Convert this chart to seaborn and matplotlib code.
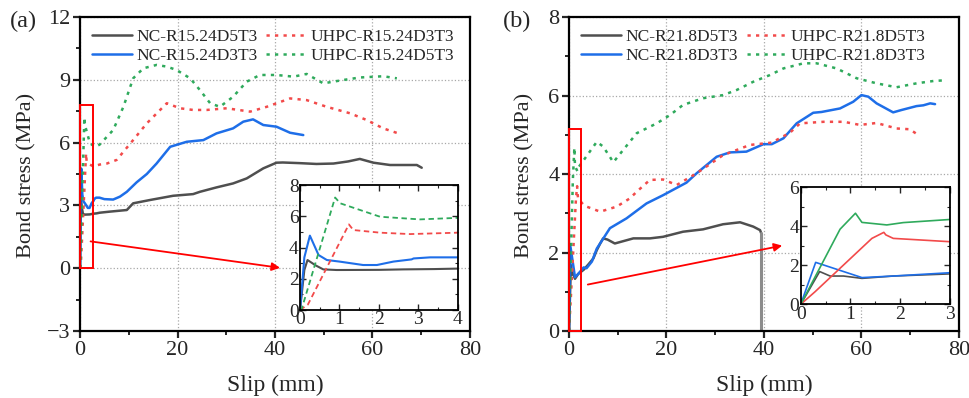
import numpy as np
import pandas as pd
import seaborn as sns
import matplotlib
matplotlib.use("Agg")
import matplotlib.pyplot as plt
from matplotlib.patches import Rectangle

# ---------------- data: panel (a) ----------------
a_labels = ["NC-R15.24D5T3", "NC-R15.24D3T3", "UHPC-R15.24D3T3", "UHPC-R15.24D5T3"]
a_nc_d5_x = [0, 0.11, 0.19, 0.4, 0.59, 0.93, 2.0, 2.62, 3.4, 4.0, 6.0, 9.6, 10.9, 14.4, 19.1, 23.2, 24.6, 28.0,
             31.4, 34.2, 37.6, 40.3, 41.6, 45.0, 48.5, 52.0, 55.0, 57.4, 60.2, 63.6, 69.1, 70.1]
a_nc_d5_y = [0, 2.56, 3.2, 2.85, 2.6, 2.56, 2.57, 2.6, 2.62, 2.65, 2.7, 2.78, 3.1, 3.26, 3.46, 3.54, 3.65, 3.86,
             4.05, 4.29, 4.77, 5.04, 5.05, 5.02, 4.98, 5.0, 5.1, 5.22, 5.04, 4.93, 4.93, 4.8]
a_nc_d3_x = [0, 0.11, 0.25, 0.47, 0.68, 1.0, 1.6, 1.95, 2.37, 2.83, 2.88, 3.3, 4.0, 5.0, 6.8, 8.2, 9.6, 11.6,
             13.7, 15.7, 18.5, 21.9, 25.3, 28.0, 31.4, 33.5, 35.5, 37.6, 40.3, 43.1, 45.8]
a_nc_d3_y = [0, 3.37, 4.76, 3.52, 3.2, 3.1, 2.88, 2.88, 3.1, 3.24, 3.3, 3.37, 3.37, 3.3, 3.28, 3.42, 3.65, 4.1,
             4.5, 5.0, 5.8, 6.04, 6.12, 6.44, 6.68, 7.0, 7.11, 6.84, 6.76, 6.47, 6.36]
a_uh_d3_x = [0, 0.2, 1.24, 1.35, 2.03, 2.79, 4.0, 5.5, 7.5, 10.9, 13.7, 17.8, 20.5, 23.2, 26.0, 30.1, 34.9,
             38.3, 43.1, 46.5, 50.6, 55.4, 58.8, 62.2, 65.3]
a_uh_d3_y = [0, 0.35, 5.48, 5.12, 4.95, 4.86, 4.95, 5.0, 5.17, 6.12, 6.92, 7.88, 7.64, 7.56, 7.56, 7.64, 7.48,
             7.71, 8.11, 8.03, 7.71, 7.4, 7.08, 6.68, 6.44]
a_uh_d5_x = [0, 0.04, 0.89, 1.02, 2.03, 3.04, 4.0, 6.8, 8.9, 10.9, 13.0, 15.7, 17.8, 19.8, 22.6, 24.6, 26.7,
             28.7, 31.4, 34.2, 36.9, 40.3, 43.8, 46.5, 49.9, 54.0, 57.4, 62.2, 65.0]
a_uh_d5_y = [0, 0.05, 7.2, 6.83, 5.97, 5.8, 5.9, 6.6, 7.71, 9.07, 9.55, 9.71, 9.63, 9.47, 9.07, 8.51, 7.88,
             7.71, 8.19, 8.91, 9.23, 9.23, 9.15, 9.28, 8.83, 8.99, 9.11, 9.17, 9.07]

# ---------------- data: panel (b) ----------------
b_labels = ["NC-R21.8D5T3", "NC-R21.8D3T3", "UHPC-R21.8D5T3", "UHPC-R21.8D3T3"]
b_nc_d5_x = [0, 0.38, 0.59, 0.86, 1.23, 1.86, 3.0, 4.0, 5.0, 5.7, 6.4, 7.0, 7.9, 9.4, 13.2, 16.6, 19.3, 23.4,
             27.5, 31.6, 35.1, 37.8, 39.2, 39.4, 39.4]
b_nc_d5_y = [0, 1.68, 1.45, 1.45, 1.33, 1.45, 1.56, 1.7, 1.85, 2.06, 2.23, 2.36, 2.33, 2.23, 2.36, 2.36, 2.4,
             2.53, 2.59, 2.72, 2.77, 2.66, 2.57, 2.5, 0]
b_nc_d3_x = [0, 0.3, 1.23, 1.86, 3.0, 3.6, 4.7, 5.7, 8.4, 11.8, 15.9, 19.3, 24.1, 26.2, 30.3, 33.0, 36.4, 39.9,
             41.6, 44.0, 46.7, 50.1, 51.8, 55.6, 58.3, 60.0, 61.4, 63.1, 66.5, 68.2, 71.3, 72.7, 74.1, 75.1]
b_nc_d3_y = [0, 2.15, 1.37, 1.45, 1.62, 1.6, 1.77, 2.1, 2.62, 2.87, 3.25, 3.46, 3.78, 4.02, 4.44, 4.55, 4.57,
             4.76, 4.76, 4.91, 5.29, 5.56, 5.58, 5.67, 5.84, 6.01, 5.97, 5.8, 5.57, 5.63, 5.73, 5.75, 5.8, 5.78]
b_uh_d5_x = [0, 0.29, 1.43, 1.67, 1.71, 1.86, 2.2, 3.0, 3.6, 6.4, 9.8, 12.5, 13.9, 16.6, 19.3, 22.1, 26.2,
             31.6, 37.1, 41.6, 45.3, 47.4, 52.2, 56.4, 59.7, 63.1, 67.2, 69.9, 71.7]
b_uh_d5_y = [0, 0.65, 3.38, 3.69, 3.56, 3.38, 3.33, 3.21, 3.17, 3.04, 3.17, 3.38, 3.55, 3.85, 3.86, 3.72, 4.02,
             4.48, 4.74, 4.8, 5.05, 5.29, 5.33, 5.33, 5.25, 5.3, 5.16, 5.14, 4.99]
b_uh_d3_x = [0, 0.79, 1.1, 1.23, 1.73, 2.06, 3.0, 5.7, 7.0, 9.1, 11.1, 13.9, 18.0, 20.7, 23.4, 27.5, 31.6, 34.4,
             37.8, 41.2, 44.0, 48.1, 50.8, 54.9, 59.0, 63.1, 67.2, 71.3, 74.8, 77.5]
b_uh_d3_y = [0, 3.85, 4.67, 4.2, 4.07, 4.19, 4.35, 4.82, 4.7, 4.3, 4.61, 5.04, 5.29, 5.5, 5.76, 5.93, 6.01, 6.14,
             6.35, 6.52, 6.69, 6.82, 6.82, 6.69, 6.44, 6.31, 6.21, 6.31, 6.37, 6.39]

# ---------------- style ----------------
sns.set_style("ticks")
plt.rcParams["font.family"] = ["Liberation Serif", "DejaVu Serif"]

GRAY, BLUE, RED, GREEN = "#4f4f4f", "#1e6ee8", "#f24a4a", "#2faa5c"
LIGHTGRAY = "#8c8c8c"
DOT = (0, (1.3, 2.1))
DASH = (0, (3.0, 2.0))

fig = plt.figure(figsize=(9.70, 3.98), dpi=100)


def draw(ax, xs, ys, color, ls, lw, label=None):
    df = pd.DataFrame({"x": xs, "y": ys})
    sns.lineplot(data=df, x="x", y="y", ax=ax, color=color, lw=lw, linestyle=ls,
                 sort=False, estimator=None, label=label, legend=False)


def style_main(ax, ylim, yticks, yminor, ylab_x):
    ax.set_xlim(0, 80)
    ax.set_ylim(*ylim)
    ax.set_xticks([0, 20, 40, 60, 80])
    ax.set_xticks([10, 30, 50, 70], minor=True)
    ax.set_yticks(yticks)
    ax.set_yticks(yminor, minor=True)
    for s in ax.spines.values():
        s.set_linewidth(1.6)
        s.set_color("black")
    ax.tick_params(which="major", direction="out", length=5, width=1.6, labelsize=16, pad=2,
                   top=False, right=False)
    ax.tick_params(which="minor", direction="out", length=3, width=1.4, top=False, right=False)
    ax.grid(True, which="major", color="#a8a8a8", linestyle=":", linewidth=0.9)
    ax.set_axisbelow(True)
    ax.set_xlabel("Slip (mm)", fontsize=17, va="center")
    ax.set_ylabel("Bond stress (MPa)", fontsize=16, va="center")
    ax.xaxis.set_label_coords(0.5, -0.172)
    ax.yaxis.set_label_coords(ylab_x, 0.497)


def style_inset(ax, xlim, ylim, xticks, yticks):
    ax.set_xlim(*xlim)
    ax.set_ylim(*ylim)
    ax.set_xticks(xticks)
    ax.set_yticks(yticks)
    ax.set_xticks([t + 0.5 for t in xticks[:-1]], minor=True)
    ax.set_yticks([t + 1 for t in yticks[:-1]], minor=True)
    for s in ax.spines.values():
        s.set_linewidth(1.3)
        s.set_color("black")
    ax.tick_params(which="major", direction="in", length=4, width=1.0, labelsize=14, pad=1,
                   top=True, right=True)
    ax.tick_params(which="minor", direction="in", length=2, width=0.8, top=True, right=True)
    ax.grid(False)
    ax.set_xlabel("")
    ax.set_ylabel("")
    ax.set_facecolor("white")


legend_kw = dict(ncol=2, frameon=False, loc="upper left", bbox_to_anchor=(0.0, 1.0), fontsize=12.5,
                 handlelength=2.3, handletextpad=0.25, columnspacing=0.5, labelspacing=0.15,
                 borderaxespad=0.3)

# ---------------- panel (a) ----------------
axa = fig.add_axes([0.0825, 0.1683, 0.402, 0.789])
draw(axa, a_nc_d5_x, a_nc_d5_y, GRAY, "-", 1.8, a_labels[0])
draw(axa, a_nc_d3_x, a_nc_d3_y, BLUE, "-", 1.8, a_labels[1])
draw(axa, a_uh_d3_x, a_uh_d3_y, RED, DOT, 1.8, a_labels[2])
draw(axa, a_uh_d5_x, a_uh_d5_y, GREEN, DOT, 1.8, a_labels[3])
style_main(axa, (-3, 12), [-3, 0, 3, 6, 9, 12], [-1.5, 1.5, 4.5, 7.5, 10.5], -0.136)
h, l = axa.get_legend_handles_labels()
axa.legend(h, l, **legend_kw)
axa.add_patch(Rectangle((0, 0), 2.6, 7.8, fill=False, edgecolor="red", lw=1.4, clip_on=False, zorder=5))
axa.annotate("", xy=(41.6, 0.0), xytext=(1.6, 1.3),
             arrowprops=dict(arrowstyle="-|>", color="red", lw=1.3, mutation_scale=12))
fig.text(0.0103, 0.947, "(a)", fontsize=17.5, ha="left", va="center")

ia = fig.add_axes([0.3093, 0.2211, 0.1626, 0.314])
draw(ia, a_nc_d5_x, a_nc_d5_y, GRAY, "-", 1.5)
draw(ia, a_nc_d3_x, a_nc_d3_y, BLUE, "-", 1.5)
draw(ia, a_uh_d3_x, a_uh_d3_y, RED, DASH, 1.3)
draw(ia, a_uh_d5_x, a_uh_d5_y, GREEN, DASH, 1.3)
style_inset(ia, (0, 4), (0, 8), [0, 1, 2, 3, 4], [0, 2, 4, 6, 8])

# ---------------- panel (b) ----------------
axb = fig.add_axes([0.5866, 0.1683, 0.402, 0.789])
draw(axb, b_nc_d5_x[:-1], b_nc_d5_y[:-1], GRAY, "-", 1.8, b_labels[0])
draw(axb, b_nc_d5_x[-2:], b_nc_d5_y[-2:], LIGHTGRAY, "-", 2.2)
draw(axb, b_nc_d3_x, b_nc_d3_y, BLUE, "-", 1.8, b_labels[1])
draw(axb, b_uh_d5_x, b_uh_d5_y, RED, DOT, 1.8, b_labels[2])
draw(axb, b_uh_d3_x, b_uh_d3_y, GREEN, DOT, 1.8, b_labels[3])
style_main(axb, (0, 8), [0, 2, 4, 6, 8], [1, 3, 5, 7], -0.113)
h, l = axb.get_legend_handles_labels()
axb.legend(h, l, **legend_kw)
axb.add_patch(Rectangle((0, 0), 2.4, 5.15, fill=False, edgecolor="red", lw=1.4, clip_on=False, zorder=5))
axb.annotate("", xy=(44.3, 2.19), xytext=(3.3, 1.17),
             arrowprops=dict(arrowstyle="-|>", color="red", lw=1.3, mutation_scale=12))
fig.text(0.5186, 0.947, "(b)", fontsize=17.5, ha="left", va="center")

ib = fig.add_axes([0.8255, 0.2354, 0.1539, 0.294])
draw(ib, b_nc_d5_x, b_nc_d5_y, GRAY, "-", 1.2)
draw(ib, b_nc_d3_x, b_nc_d3_y, BLUE, "-", 1.2)
draw(ib, b_uh_d5_x, b_uh_d5_y, RED, "-", 1.2)
draw(ib, b_uh_d3_x, b_uh_d3_y, GREEN, "-", 1.2)
style_inset(ib, (0, 3), (0, 6), [0, 1, 2, 3], [0, 2, 4, 6])

fig.savefig("out.png", dpi=100)
